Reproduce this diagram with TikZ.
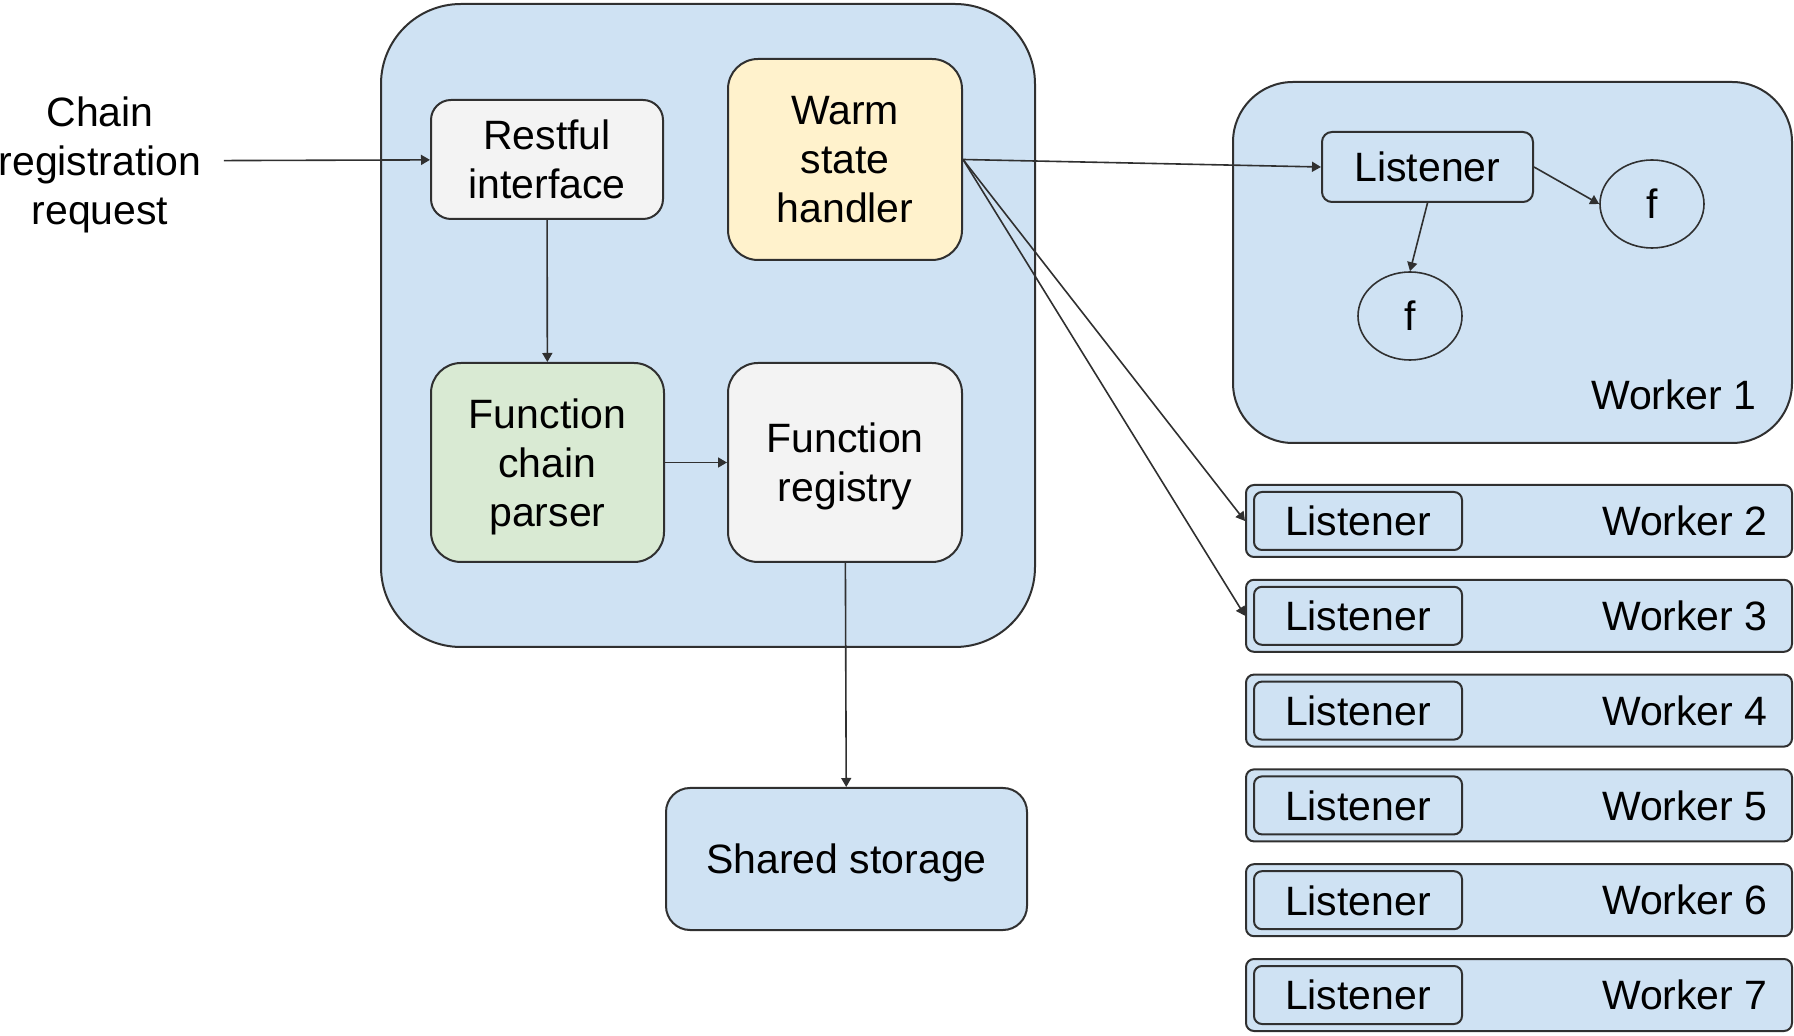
\documentclass[tikz,border=0pt]{standalone}
\usepackage{fontspec}
\setmainfont{Liberation Sans}
\usetikzlibrary{arrows.meta,positioning,shapes.geometric}

\definecolor{boxblue}{HTML}{CFE2F3}
\definecolor{boxyellow}{HTML}{FFF2CC}
\definecolor{boxgreen}{HTML}{D9EAD3}
\definecolor{boxgray}{HTML}{F3F3F3}
\definecolor{edge}{HTML}{303030}

\tikzset{
  part/.style={draw=edge, line width=1pt, rounded corners=#1, align=center, inner sep=0pt, text depth=0pt},
  part/.default=14pt,
  link/.style={draw=edge, line width=0.8pt, -{Triangle[length=4.5pt,width=5pt]}},
}

\begin{document}
\begin{tikzpicture}[x=0.5pt, y=-0.5pt, font=\fontsize{20.5}{24.5}\selectfont]
\useasboundingbox (0,0) rectangle (1794,1036);

% controller
\node[part=40pt, fill=boxblue, minimum width=327pt, minimum height=321.5pt] (ctrl) at (708,325.5) {};
\node[part=10pt, fill=boxgray, minimum width=116pt, minimum height=59.5pt] (rest) at (547,159.5) {Restful\\interface};
\node[part=15pt, fill=boxyellow, minimum width=117pt, minimum height=100.5pt] (warm) at (845,159.5) {Warm\\state\\handler};
\node[part=15pt, fill=boxgreen, minimum width=116.5pt, minimum height=99.5pt] (parser) at (547.5,462.5) {Function\\chain\\parser};
\node[part=15pt, fill=boxgray, minimum width=117pt, minimum height=99.5pt] (registry) at (845,462.5) {Function\\registry};
\node[part=12pt, fill=boxblue, minimum width=180.5pt, minimum height=71pt] (storage) at (846.5,859) {Shared storage};
\node[align=center, inner sep=11pt, text depth=0pt] (req) at (100,161) {Chain\\registration\\request};

% worker 1
\node[part=30pt, fill=boxblue, minimum width=279.5pt, minimum height=180.5pt] (w1) at (1512.5,262.5) {};
\node[part=5pt, minimum width=105.5pt, minimum height=35pt] (lis1) at (1427.5,167) {Listener};
\node[draw=edge, line width=0.8pt, ellipse, minimum width=52pt, minimum height=44pt, inner sep=0pt] (fa) at (1652,204) {f};
\node[draw=edge, line width=0.8pt, ellipse, minimum width=52pt, minimum height=44pt, inner sep=0pt] (fb) at (1410,316) {f};
\node[anchor=east, inner sep=0pt] (w1label) at (1757,395) {Worker 1};

% workers 2 to 7
\foreach \i in {2,...,7} {
  \pgfmathsetmacro{\wy}{521+(\i-2)*94.8}
  \node[part=4pt, fill=boxblue, minimum width=273pt, minimum height=36pt] (w\i) at (1519,\wy) {};
  \node[part=4pt, minimum width=104pt, minimum height=29pt] (lis\i) at (1358,\wy) {Listener};
  \node[anchor=east, inner sep=0pt] (w\i label) at (1768,\wy) {Worker \i};
}

\draw[link] (req) -- (rest);
\draw[link] (rest) -- (parser);
\draw[link] (parser) -- (registry);
\draw[link] (registry) -- (storage);
\draw[link] (warm.east) -- (lis1.west);
\draw[link] (warm.east) -- (w2.west);
\draw[link] (warm.east) -- (w3.west);
\draw[link] (lis1.east) -- (fa.west);
\draw[link] (lis1.south) -- (fb.north);

\end{tikzpicture}
\end{document}
